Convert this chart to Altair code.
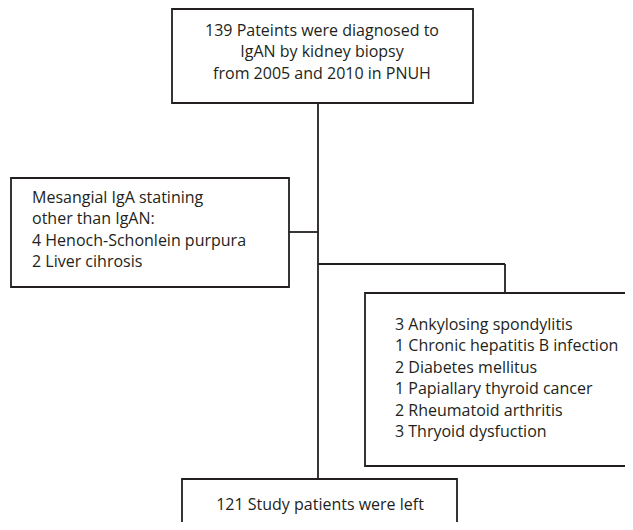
import altair as alt
import pandas as pd

# ---- content (text of the flow chart) ----
top_lines = ["139 Pateints were diagnosed to", "IgAN by kidney biopsy", "from 2005 and 2010 in PNUH"]
left_lines = ["Mesangial IgA statining", "other than IgAN:", "4 Henoch-Schonlein purpura", "2 Liver cihrosis"]
right_lines = ["3 Ankylosing spondylitis", "1 Chronic hepatitis B infection", "2 Diabetes mellitus",
               "1 Papiallary thyroid cancer", "2 Rheumatoid arthritis", "3 Thryoid dysfuction"]
bottom_lines = ["121 Study patients were left"]

# ---- layout (reference pixel coordinates) ----
box_x0 = [172, 11, 365, 182]
box_x1 = [473, 289, 650, 457]
box_y0 = [9, 178, 293, 479]
box_y1 = [103, 287, 466, 560]

rule_x0 = [318, 289, 318, 505]
rule_x1 = [318, 318, 505, 505]
rule_y0 = [103, 232, 264, 264]
rule_y1 = [479, 232, 264, 293]

LINE_H = 21.4
rows = []
for i, t in enumerate(top_lines):
    rows.append(dict(x=322, y=31 + i * LINE_H, t=t, a="center"))
for i, t in enumerate(left_lines):
    rows.append(dict(x=32, y=198 + i * LINE_H, t=t, a="left"))
for i, t in enumerate(right_lines):
    rows.append(dict(x=395, y=325 + i * LINE_H, t=t, a="left"))
for i, t in enumerate(bottom_lines):
    rows.append(dict(x=320, y=505 + i * LINE_H, t=t, a="center"))
text_df = pd.DataFrame(rows)

boxes = pd.DataFrame(dict(x0=box_x0, x1=box_x1, y0=box_y0, y1=box_y1))
rules = pd.DataFrame(dict(x0=rule_x0, x1=rule_x1, y0=rule_y0, y1=rule_y1))

W, H = 617, 514
xs = alt.Scale(domain=[8, 8 + W], nice=False, zero=False)
ys = alt.Scale(domain=[8, 8 + H], nice=False, zero=False, reverse=True)
INK = "#231f20"

rect = alt.Chart(boxes).mark_rect(fill="white", stroke=INK, strokeWidth=1.8, clip=True).encode(
    x=alt.X("x0:Q", scale=xs, axis=None), x2="x1:Q",
    y=alt.Y("y0:Q", scale=ys, axis=None), y2="y1:Q")

rule = alt.Chart(rules).mark_rule(color=INK, strokeWidth=1.8, clip=True).encode(
    x=alt.X("x0:Q", scale=xs, axis=None), x2="x1:Q",
    y=alt.Y("y0:Q", scale=ys, axis=None), y2="y1:Q")

def text_layer(align):
    return alt.Chart(text_df[text_df.a == align]).mark_text(
        align=align, baseline="middle", font="Open Sans", fontSize=16, color=INK).encode(
        x=alt.X("x:Q", scale=xs, axis=None),
        y=alt.Y("y:Q", scale=ys, axis=None),
        text="t:N")

chart = alt.layer(rule, rect, text_layer("center"), text_layer("left")).properties(
    width=W, height=H, padding=0, autosize=alt.AutoSizeParams(type="none")
).configure_view(stroke=None)

chart.save("out.html", embed_options={"renderer": "svg", "actions": False})
